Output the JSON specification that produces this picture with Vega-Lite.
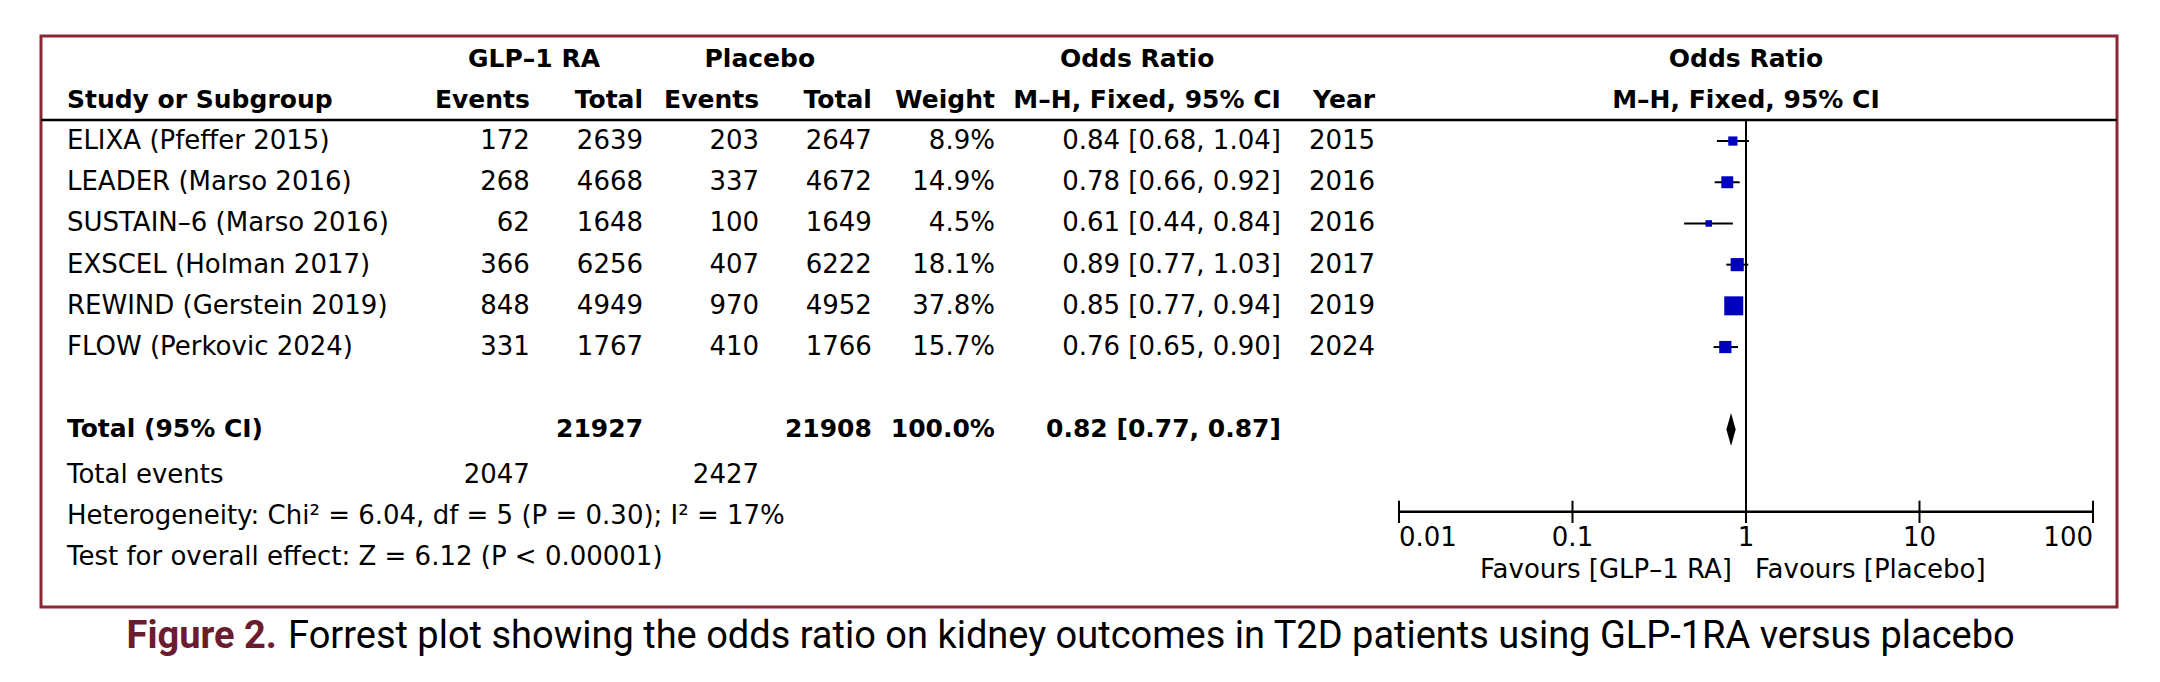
{
  "$schema": "https://vega.github.io/schema/vega-lite/v6.json",
  "width": 2076,
  "height": 571,
  "autosize": {"type": "none"},
  "padding": {"left": 41, "top": 36, "right": 43, "bottom": 75},
  "background": "#ffffff",
  "config": {
    "view": {"stroke": "#8b2635", "strokeWidth": 3},
    "text": {"font": "DejaVu Sans", "fontSize": 26, "color": "#000000"},
    "rule": {"color": "#000000"}
  },
  "datasets": {
    "studies": [
      {"study": "ELIXA (Pfeffer 2015)", "e1": 172, "n1": 2639, "e2": 203, "n2": 2647, "w": 0.089, "or": 0.84, "lo": 0.68, "hi": 1.04, "year": 2015, "r": 2},
      {"study": "LEADER (Marso 2016)", "e1": 268, "n1": 4668, "e2": 337, "n2": 4672, "w": 0.149, "or": 0.78, "lo": 0.66, "hi": 0.92, "year": 2016, "r": 3},
      {"study": "SUSTAIN–6 (Marso 2016)", "e1": 62, "n1": 1648, "e2": 100, "n2": 1649, "w": 0.045, "or": 0.61, "lo": 0.44, "hi": 0.84, "year": 2016, "r": 4},
      {"study": "EXSCEL (Holman 2017)", "e1": 366, "n1": 6256, "e2": 407, "n2": 6222, "w": 0.181, "or": 0.89, "lo": 0.77, "hi": 1.03, "year": 2017, "r": 5},
      {"study": "REWIND (Gerstein 2019)", "e1": 848, "n1": 4949, "e2": 970, "n2": 4952, "w": 0.378, "or": 0.85, "lo": 0.77, "hi": 0.94, "year": 2019, "r": 6},
      {"study": "FLOW (Perkovic 2024)", "e1": 331, "n1": 1767, "e2": 410, "n2": 1766, "w": 0.157, "or": 0.76, "lo": 0.65, "hi": 0.90, "year": 2024, "r": 7}
    ],
    "total": [
      {"label": "Total (95% CI)", "n1": 21927, "n2": 21908, "w": 1.0, "or": 0.82, "lo": 0.77, "hi": 0.87, "r": 9}
    ],
    "notes": [
      {"label": "Total events", "e1": 2047, "e2": 2427, "r": 10},
      {"label": "Heterogeneity: Chi² = 6.04, df = 5 (P = 0.30); I² = 17%", "r": 11},
      {"label": "Test for overall effect: Z = 6.12 (P < 0.00001)", "r": 12}
    ],
    "headers": [
      {"key": "grp1", "label": "GLP–1 RA", "r": 0},
      {"key": "grp2", "label": "Placebo", "r": 0},
      {"key": "orhead", "label": "Odds Ratio", "r": 0},
      {"key": "forest", "label": "Odds Ratio", "r": 0},
      {"key": "forest", "label": "M–H, Fixed, 95% CI", "r": 1},
      {"key": "study", "label": "Study or Subgroup", "r": 1},
      {"key": "e1", "label": "Events", "r": 1},
      {"key": "n1", "label": "Total", "r": 1},
      {"key": "e2", "label": "Events", "r": 1},
      {"key": "n2", "label": "Total", "r": 1},
      {"key": "w", "label": "Weight", "r": 1},
      {"key": "orci", "label": "M–H, Fixed, 95% CI", "r": 1},
      {"key": "year", "label": "Year", "r": 1}
    ],
    "ticks": [{"v": 0.01}, {"v": 0.1}, {"v": 1}, {"v": 10}, {"v": 100}],
    "favours": [
      {"side": "left", "label": "Favours [GLP–1 RA]"},
      {"side": "right", "label": "Favours [Placebo]"}
    ],
    "caption": [
      {"part": "figure", "label": "Figure 2."},
      {"part": "text", "label": "Forrest plot showing the odds ratio on kidney outcomes in T2D patients using GLP-1RA versus placebo"}
    ]
  },
  "layer": [
    {
      "layer": [
        {"data": {"name": "headers"}, "transform": [{"filter": "datum.key == 'grp1'"}],
         "mark": {"type": "text", "align": "center", "fontWeight": "bold", "fontSize": 25},
         "encoding": {"x": {"datum": 19.0, "type": "quantitative", "axis": null, "scale": {"type": "linear", "domain": [0, 80], "range": [0, 2076], "zero": false, "nice": false}},
                      "y": {"field": "r", "type": "quantitative", "axis": null, "scale": {"domain": [-0.55, 13.31], "range": [0, 571], "zero": false, "nice": false}},
                      "text": {"field": "label", "type": "nominal"}}},
        {"data": {"values": [{}]}, "mark": {"type": "rule", "strokeWidth": 2.5},
         "encoding": {"y": {"datum": 1.49, "type": "quantitative", "axis": null}}},
        {"data": {"name": "headers"}, "transform": [{"filter": "datum.key == 'grp2'"}],
         "mark": {"type": "text", "align": "center", "fontWeight": "bold", "fontSize": 25},
         "encoding": {"x": {"datum": 27.7, "type": "quantitative", "axis": null}, "y": {"field": "r", "type": "quantitative", "axis": null},
                      "text": {"field": "label", "type": "nominal"}}},
        {"data": {"name": "headers"}, "transform": [{"filter": "datum.key == 'orhead'"}],
         "mark": {"type": "text", "align": "center", "fontWeight": "bold", "fontSize": 25},
         "encoding": {"x": {"datum": 42.24, "type": "quantitative", "axis": null}, "y": {"field": "r", "type": "quantitative", "axis": null},
                      "text": {"field": "label", "type": "nominal"}}},
        {"data": {"name": "headers"}, "transform": [{"filter": "datum.key == 'study'"}],
         "mark": {"type": "text", "align": "left", "fontWeight": "bold", "fontSize": 25},
         "encoding": {"x": {"datum": 1.0, "type": "quantitative", "axis": null}, "y": {"field": "r", "type": "quantitative", "axis": null},
                      "text": {"field": "label", "type": "nominal"}}},
        {"data": {"name": "headers"}, "transform": [{"filter": "datum.key == 'e1'"}],
         "mark": {"type": "text", "align": "right", "fontWeight": "bold", "fontSize": 25},
         "encoding": {"x": {"datum": 18.84, "type": "quantitative", "axis": null}, "y": {"field": "r", "type": "quantitative", "axis": null},
                      "text": {"field": "label", "type": "nominal"}}},
        {"data": {"name": "headers"}, "transform": [{"filter": "datum.key == 'n1'"}],
         "mark": {"type": "text", "align": "right", "fontWeight": "bold", "fontSize": 25},
         "encoding": {"x": {"datum": 23.2, "type": "quantitative", "axis": null}, "y": {"field": "r", "type": "quantitative", "axis": null},
                      "text": {"field": "label", "type": "nominal"}}},
        {"data": {"name": "headers"}, "transform": [{"filter": "datum.key == 'e2'"}],
         "mark": {"type": "text", "align": "right", "fontWeight": "bold", "fontSize": 25},
         "encoding": {"x": {"datum": 27.67, "type": "quantitative", "axis": null}, "y": {"field": "r", "type": "quantitative", "axis": null},
                      "text": {"field": "label", "type": "nominal"}}},
        {"data": {"name": "headers"}, "transform": [{"filter": "datum.key == 'n2'"}],
         "mark": {"type": "text", "align": "right", "fontWeight": "bold", "fontSize": 25},
         "encoding": {"x": {"datum": 32.02, "type": "quantitative", "axis": null}, "y": {"field": "r", "type": "quantitative", "axis": null},
                      "text": {"field": "label", "type": "nominal"}}},
        {"data": {"name": "headers"}, "transform": [{"filter": "datum.key == 'w'"}],
         "mark": {"type": "text", "align": "right", "fontWeight": "bold", "fontSize": 25},
         "encoding": {"x": {"datum": 36.76, "type": "quantitative", "axis": null}, "y": {"field": "r", "type": "quantitative", "axis": null},
                      "text": {"field": "label", "type": "nominal"}}},
        {"data": {"name": "headers"}, "transform": [{"filter": "datum.key == 'orci'"}],
         "mark": {"type": "text", "align": "right", "fontWeight": "bold", "fontSize": 25},
         "encoding": {"x": {"datum": 47.78, "type": "quantitative", "axis": null}, "y": {"field": "r", "type": "quantitative", "axis": null},
                      "text": {"field": "label", "type": "nominal"}}},
        {"data": {"name": "headers"}, "transform": [{"filter": "datum.key == 'year'"}],
         "mark": {"type": "text", "align": "right", "fontWeight": "bold", "fontSize": 25},
         "encoding": {"x": {"datum": 51.41, "type": "quantitative", "axis": null}, "y": {"field": "r", "type": "quantitative", "axis": null},
                      "text": {"field": "label", "type": "nominal"}}},

        {"data": {"name": "studies"}, "mark": {"type": "text", "align": "left"},
         "encoding": {"x": {"datum": 1.0, "type": "quantitative", "axis": null}, "y": {"field": "r", "type": "quantitative", "axis": null},
                      "text": {"field": "study", "type": "nominal"}}},
        {"data": {"name": "studies"}, "mark": {"type": "text", "align": "right"},
         "encoding": {"x": {"datum": 18.84, "type": "quantitative", "axis": null}, "y": {"field": "r", "type": "quantitative", "axis": null},
                      "text": {"field": "e1", "type": "nominal"}}},
        {"data": {"name": "studies"}, "mark": {"type": "text", "align": "right"},
         "encoding": {"x": {"datum": 23.2, "type": "quantitative", "axis": null}, "y": {"field": "r", "type": "quantitative", "axis": null},
                      "text": {"field": "n1", "type": "nominal"}}},
        {"data": {"name": "studies"}, "mark": {"type": "text", "align": "right"},
         "encoding": {"x": {"datum": 27.67, "type": "quantitative", "axis": null}, "y": {"field": "r", "type": "quantitative", "axis": null},
                      "text": {"field": "e2", "type": "nominal"}}},
        {"data": {"name": "studies"}, "mark": {"type": "text", "align": "right"},
         "encoding": {"x": {"datum": 32.02, "type": "quantitative", "axis": null}, "y": {"field": "r", "type": "quantitative", "axis": null},
                      "text": {"field": "n2", "type": "nominal"}}},
        {"data": {"name": "studies"}, "mark": {"type": "text", "align": "right"},
         "encoding": {"x": {"datum": 36.76, "type": "quantitative", "axis": null}, "y": {"field": "r", "type": "quantitative", "axis": null},
                      "text": {"field": "w", "type": "quantitative", "format": ".1%"}}},
        {"data": {"name": "studies"},
         "transform": [{"calculate": "format(datum.or, '.2f') + ' [' + format(datum.lo, '.2f') + ', ' + format(datum.hi, '.2f') + ']'", "as": "ci"}],
         "mark": {"type": "text", "align": "right"},
         "encoding": {"x": {"datum": 47.78, "type": "quantitative", "axis": null}, "y": {"field": "r", "type": "quantitative", "axis": null},
                      "text": {"field": "ci", "type": "nominal"}}},
        {"data": {"name": "studies"}, "mark": {"type": "text", "align": "right"},
         "encoding": {"x": {"datum": 51.41, "type": "quantitative", "axis": null}, "y": {"field": "r", "type": "quantitative", "axis": null},
                      "text": {"field": "year", "type": "nominal"}}},

        {"data": {"name": "total"}, "mark": {"type": "text", "align": "left", "fontWeight": "bold", "fontSize": 25},
         "encoding": {"x": {"datum": 1.0, "type": "quantitative", "axis": null}, "y": {"field": "r", "type": "quantitative", "axis": null},
                      "text": {"field": "label", "type": "nominal"}}},
        {"data": {"name": "total"}, "mark": {"type": "text", "align": "right", "fontWeight": "bold", "fontSize": 25},
         "encoding": {"x": {"datum": 23.2, "type": "quantitative", "axis": null}, "y": {"field": "r", "type": "quantitative", "axis": null},
                      "text": {"field": "n1", "type": "nominal"}}},
        {"data": {"name": "total"}, "mark": {"type": "text", "align": "right", "fontWeight": "bold", "fontSize": 25},
         "encoding": {"x": {"datum": 32.02, "type": "quantitative", "axis": null}, "y": {"field": "r", "type": "quantitative", "axis": null},
                      "text": {"field": "n2", "type": "nominal"}}},
        {"data": {"name": "total"}, "mark": {"type": "text", "align": "right", "fontWeight": "bold", "fontSize": 25},
         "encoding": {"x": {"datum": 36.76, "type": "quantitative", "axis": null}, "y": {"field": "r", "type": "quantitative", "axis": null},
                      "text": {"field": "w", "type": "quantitative", "format": ".1%"}}},
        {"data": {"name": "total"},
         "transform": [{"calculate": "format(datum.or, '.2f') + ' [' + format(datum.lo, '.2f') + ', ' + format(datum.hi, '.2f') + ']'", "as": "ci"}],
         "mark": {"type": "text", "align": "right", "fontWeight": "bold", "fontSize": 25},
         "encoding": {"x": {"datum": 47.78, "type": "quantitative", "axis": null}, "y": {"field": "r", "type": "quantitative", "axis": null},
                      "text": {"field": "ci", "type": "nominal"}}},

        {"data": {"name": "notes"}, "mark": {"type": "text", "align": "left", "dy": 4},
         "encoding": {"x": {"datum": 1.0, "type": "quantitative", "axis": null}, "y": {"field": "r", "type": "quantitative", "axis": null},
                      "text": {"field": "label", "type": "nominal"}}},
        {"data": {"name": "notes"}, "transform": [{"filter": "isValid(datum.e1)"}],
         "mark": {"type": "text", "align": "right", "dy": 4},
         "encoding": {"x": {"datum": 18.84, "type": "quantitative", "axis": null}, "y": {"field": "r", "type": "quantitative", "axis": null},
                      "text": {"field": "e1", "type": "nominal"}}},
        {"data": {"name": "notes"}, "transform": [{"filter": "isValid(datum.e2)"}],
         "mark": {"type": "text", "align": "right", "dy": 4},
         "encoding": {"x": {"datum": 27.67, "type": "quantitative", "axis": null}, "y": {"field": "r", "type": "quantitative", "axis": null},
                      "text": {"field": "e2", "type": "nominal"}}},

        {"data": {"name": "caption"}, "transform": [{"filter": "datum.part == 'figure'"}],
         "mark": {"type": "text", "align": "right", "font": "Roboto", "fontSize": 38, "fontWeight": "bold", "color": "#6b1d2f", "dy": 2},
         "encoding": {"x": {"datum": 9.09, "type": "quantitative", "axis": null}, "y": {"datum": 14, "type": "quantitative", "axis": null},
                      "text": {"field": "label", "type": "nominal"}}},
        {"data": {"name": "caption"}, "transform": [{"filter": "datum.part == 'text'"}],
         "mark": {"type": "text", "align": "left", "font": "Roboto", "fontSize": 38, "dy": 2},
         "encoding": {"x": {"datum": 9.52, "type": "quantitative", "axis": null}, "y": {"datum": 14, "type": "quantitative", "axis": null},
                      "text": {"field": "label", "type": "nominal"}}}
      ]
    },
    {
      "layer": [
        {"data": {"values": [{}]}, "mark": {"type": "rule", "strokeWidth": 2},
         "encoding": {"x": {"datum": 1, "type": "quantitative", "axis": null, "scale": {"type": "log", "domain": [0.01, 100], "range": [1358, 2052], "nice": false}},
                      "y": {"datum": 1.49, "type": "quantitative", "axis": null}, "y2": {"datum": 11}}},
        {"data": {"values": [{}]}, "mark": {"type": "rule", "strokeWidth": 2.5},
         "encoding": {"x": {"datum": 0.01, "type": "quantitative", "axis": null}, "x2": {"datum": 100},
                      "y": {"datum": 11, "type": "quantitative", "axis": null}}},
        {"data": {"name": "ticks"}, "mark": {"type": "rule", "strokeWidth": 2},
         "encoding": {"x": {"field": "v", "type": "quantitative", "axis": null},
                      "y": {"datum": 10.73, "type": "quantitative", "axis": null}, "y2": {"datum": 11.27}}},
        {"data": {"name": "ticks"}, "transform": [{"filter": "datum.v == 0.01"}],
         "mark": {"type": "text", "align": "left", "dy": 26},
         "encoding": {"x": {"field": "v", "type": "quantitative", "axis": null}, "y": {"datum": 11, "type": "quantitative", "axis": null},
                      "text": {"field": "v", "type": "nominal"}}},
        {"data": {"name": "ticks"}, "transform": [{"filter": "datum.v > 0.01 && datum.v < 100"}],
         "mark": {"type": "text", "align": "center", "dy": 26},
         "encoding": {"x": {"field": "v", "type": "quantitative", "axis": null}, "y": {"datum": 11, "type": "quantitative", "axis": null},
                      "text": {"field": "v", "type": "nominal"}}},
        {"data": {"name": "ticks"}, "transform": [{"filter": "datum.v == 100"}],
         "mark": {"type": "text", "align": "right", "dy": 26},
         "encoding": {"x": {"field": "v", "type": "quantitative", "axis": null}, "y": {"datum": 11, "type": "quantitative", "axis": null},
                      "text": {"field": "v", "type": "nominal"}}},
        {"data": {"name": "favours"}, "transform": [{"filter": "datum.side == 'left'"}],
         "mark": {"type": "text", "align": "right", "dy": 58, "dx": -14},
         "encoding": {"x": {"datum": 1, "type": "quantitative", "axis": null}, "y": {"datum": 11, "type": "quantitative", "axis": null},
                      "text": {"field": "label", "type": "nominal"}}},
        {"data": {"name": "favours"}, "transform": [{"filter": "datum.side == 'right'"}],
         "mark": {"type": "text", "align": "left", "dy": 58, "dx": 9},
         "encoding": {"x": {"datum": 1, "type": "quantitative", "axis": null}, "y": {"datum": 11, "type": "quantitative", "axis": null},
                      "text": {"field": "label", "type": "nominal"}}},
        {"data": {"name": "headers"}, "transform": [{"filter": "datum.key == 'forest'"}],
         "mark": {"type": "text", "align": "center", "fontWeight": "bold", "fontSize": 25},
         "encoding": {"x": {"datum": 1, "type": "quantitative", "axis": null}, "y": {"field": "r", "type": "quantitative", "axis": null},
                      "text": {"field": "label", "type": "nominal"}}},
        {"data": {"name": "studies"}, "mark": {"type": "rule", "strokeWidth": 2},
         "encoding": {"x": {"field": "lo", "type": "quantitative", "axis": null}, "x2": {"field": "hi"},
                      "y": {"field": "r", "type": "quantitative", "axis": null}}},
        {"data": {"name": "studies"}, "mark": {"type": "point", "shape": "square", "filled": true, "opacity": 1, "color": "#0000c0", "strokeWidth": 0},
         "encoding": {"x": {"field": "or", "type": "quantitative", "axis": null}, "y": {"field": "r", "type": "quantitative", "axis": null},
                      "size": {"field": "w", "type": "quantitative", "legend": null, "scale": {"type": "linear", "domain": [0, 0.378], "range": [0, 361], "zero": true}}}},
        {"data": {"name": "total"}, "mark": {"type": "point", "shape": "M-0.28,0L0,-1L0.28,0L0,1Z", "filled": true, "opacity": 1, "color": "#000000", "size": 1089, "strokeWidth": 0},
         "encoding": {"x": {"field": "or", "type": "quantitative", "axis": null}, "y": {"field": "r", "type": "quantitative", "axis": null}}}
      ]
    }
  ],
  "resolve": {"scale": {"x": "independent"}}
}
